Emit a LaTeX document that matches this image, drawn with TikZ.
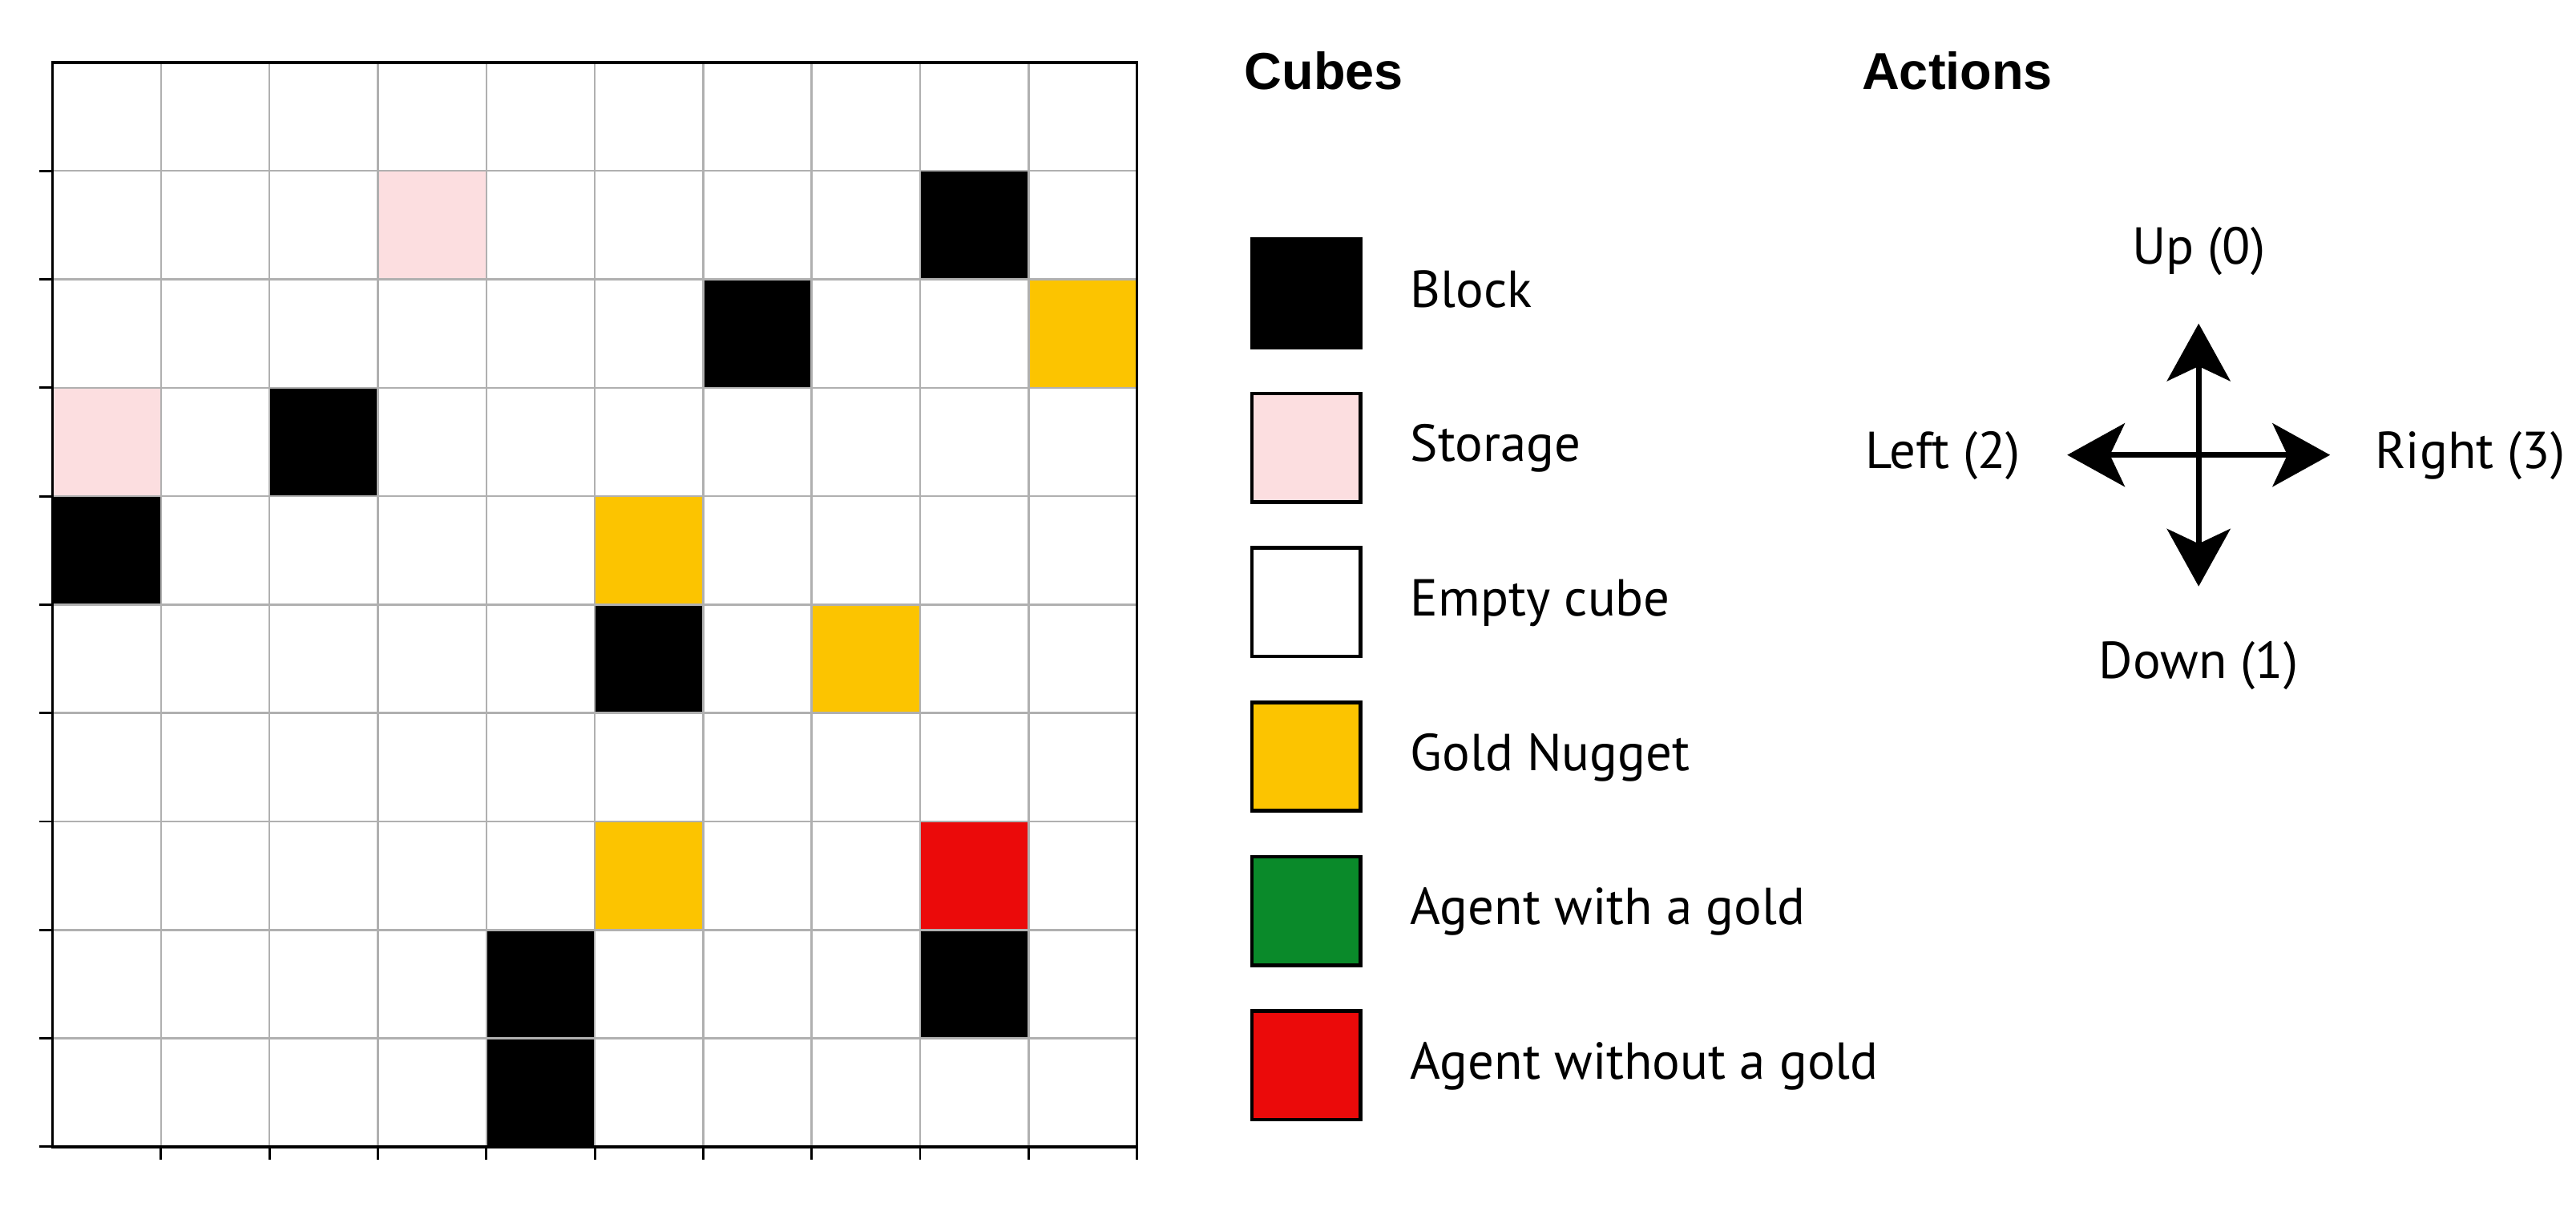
\documentclass[tikz,border=0pt]{standalone}
\usepackage{fontspec}
\setmainfont{PT Sans}
\newfontfamily\headfont{Liberation Sans}
\usetikzlibrary{arrows.meta,positioning}
\definecolor{storage}{RGB}{252,222,224}
\definecolor{gold}{RGB}{252,196,0}
\definecolor{agentgold}{RGB}{10,138,42}
\definecolor{agentnogold}{RGB}{235,10,10}
\definecolor{gridgray}{RGB}{176,176,176}
\begin{document}
\begin{tikzpicture}[x=1.32cm,y=1.32cm,
 cube/.style={draw=black,line width=1.3pt,minimum width=1.32cm,minimum height=1.32cm,inner sep=0pt},
 lbl/.style={font=\fontsize{18}{22}\selectfont,inner sep=0pt,text height=0.95em,text depth=0pt},
 head/.style={font=\headfont\bfseries\fontsize{18}{22}\selectfont,inner sep=0pt,anchor=west,text height=0.72em,text depth=0pt},
 act/.style={line width=2pt,-{Stealth[length=0.7cm,width=0.77cm,inset=0.18cm]}}]
\useasboundingbox (-0.485,-0.591) rectangle (23.27,10.576);
%cubes in the world, column/row counted from the top left
\foreach \c/\r in {8/1,6/2,2/3,0/4,5/5,4/8,8/8,4/9} \fill[black] (\c,{9-\r}) rectangle ++(1,1);
\foreach \c/\r in {3/1,0/3} \fill[storage] (\c,{9-\r}) rectangle ++(1,1);
\foreach \c/\r in {9/2,5/4,7/5,5/7} \fill[gold] (\c,{9-\r}) rectangle ++(1,1);
\fill[agentnogold] (8,2) rectangle ++(1,1);
%grid, frame and ticks
\foreach \i in {1,...,9}{
 \draw[gridgray,line width=0.7pt] (\i,0)--(\i,10);
 \draw[gridgray,line width=0.7pt] (0,\i)--(10,\i);
}
\draw[line width=1pt] (0,0) rectangle (10,10);
\foreach \i in {1,...,10} \draw[line width=0.8pt] (\i,0)--++(0,-0.12);
\foreach \j in {0,...,9} \draw[line width=0.8pt] (0,\j)--++(-0.12,0);
%legend
\node[head] (cubes) at (10.985,9.85) {Cubes};
\foreach \n/\col/\txt [count=\k] in {block/black/Block,stor/storage/Storage,empty/white/Empty cube,gold/gold/Gold Nugget,agentg/agentgold/Agent with a gold,agentn/agentnogold/Agent without a gold}{
 \node[cube,fill=\col] (\n) at (11.56,{9.295-1.424*\k}) {};
 \node[lbl,right=0.58cm of \n] (\n-txt) {\txt};
}
%actions
\node[head] (actions) at (16.68,9.85) {Actions};
\coordinate (ctr) at (19.79,6.38);
\coordinate[above=1.6cm of ctr] (up);
\coordinate[below=1.6cm of ctr] (down);
\coordinate[left=1.6cm of ctr] (lft);
\coordinate[right=1.6cm of ctr] (rgt);
\foreach \e in {up,down,lft,rgt} \draw[act] (ctr) -- (\e);
\node[lbl,above=0.72cm of up] (up-txt) {Up (0)};
\node[lbl,below=0.78cm of down] (down-txt) {Down (1)};
\node[lbl,left=0.56cm of lft] (lft-txt) {Left (2)};
\node[lbl,right=0.54cm of rgt] (rgt-txt) {Right (3)};
\end{tikzpicture}
\end{document}
